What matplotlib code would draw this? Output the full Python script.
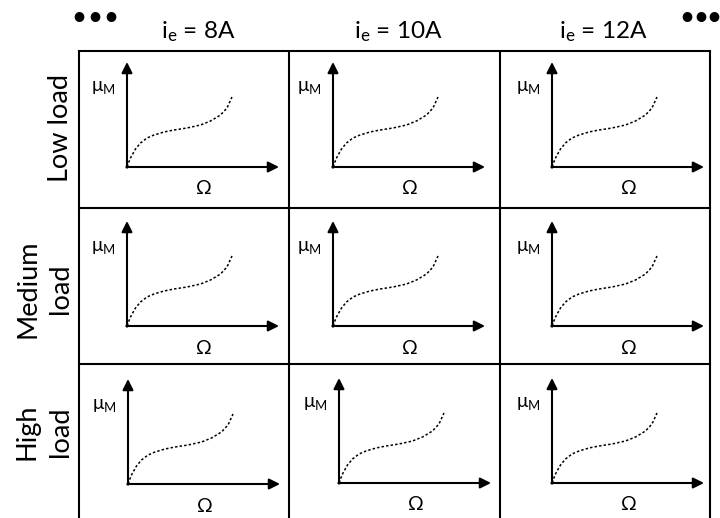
import numpy as np
import matplotlib.pyplot as plt

plt.rcParams['font.family'] = ['Lato', 'DejaVu Sans']
plt.rcParams['mathtext.fontset'] = 'custom'
plt.rcParams['mathtext.rm'] = 'Lato'

# column / row labels
col_labels = ['$\\mathregular{i_e}$ = 8A', '$\\mathregular{i_e}$ = 10A', '$\\mathregular{i_e}$ = 12A']
row_labels = [['Low load'], ['Medium', 'load'], ['High', 'load']]

# the sketched mu_M(Omega) curve (px from the axes origin)
omega = [0.5, 1, 4, 8.5, 13.5, 20, 27, 37, 47, 60, 73.5, 83.5, 93.5, 100, 105]
mu_m = [0, 3, 10, 18, 24, 29, 32, 35, 37, 39, 42, 46, 52, 59, 70]

# layout (pixels)
W, H = 720, 518
col_edges = [79, 289, 500, 710]
row_edges = [51, 208, 364, 518]
origins = [[(127, 167), (333, 167), (552, 167)],
           [(127, 326), (333, 326), (552, 326)],
           [(128, 484), (339, 483), (552, 483)]]
x_len, y_len = 152, 105
head_x = [198, 398, 603]
row_y = [128, 289, 432]

fig = plt.figure(figsize=(W / 100, H / 100), dpi=100)
ax = fig.add_axes([0, 0, 1, 1])
ax.set_xlim(0, W)
ax.set_ylim(H, 0)
ax.axis('off')

# table grid, open at the bottom
for x in col_edges:
    ax.plot([x, x], [row_edges[0], H + 2], color='black', lw=1.5, solid_capstyle='butt')
for y in row_edges[:3]:
    ax.plot([col_edges[0], col_edges[-1]], [y, y], color='black', lw=1.5)

omega = np.array(omega)
mu_m = np.array(mu_m)
for r in range(3):
    for c in range(3):
        ox, oy = origins[r][c]
        arrow = dict(arrowstyle='-|>', lw=1.5, color='black', mutation_scale=16,
                     shrinkA=0, shrinkB=0)
        ax.annotate('', xy=(ox + x_len, oy), xytext=(ox - 0.7, oy), arrowprops=arrow)
        ax.annotate('', xy=(ox, oy - y_len), xytext=(ox, oy + 0.7), arrowprops=arrow)
        ax.plot(ox + omega, oy - mu_m, color='black', lw=1.1, linestyle=(0, (1.6, 1.4)))
        ax.text(ox - 24, oy - 79, '$\\mathregular{μ_M}$', fontsize=13.5, ha='center', va='center')
        ax.text(ox + 77, oy + 22, 'Ω', fontsize=14, ha='center', va='center')

# headers
for c, lab in enumerate(col_labels):
    ax.text(head_x[c], 38, lab, fontsize=17.5, ha='center', va='baseline')
for r, lines in enumerate(row_labels):
    # last line sits at x=68, earlier lines step left
    for k, line in enumerate(reversed(lines)):
        ax.text(68 - 33 * k, row_y[r], line, fontsize=19.5, rotation=90,
                rotation_mode='anchor', ha='center', va='baseline')

# ellipsis marks
for x in [79, 95, 111, 687, 701, 714]:
    ax.text(x, 17, '•', fontsize=16, fontweight='bold', ha='center', va='center')

fig.savefig('out.png', dpi=100)
